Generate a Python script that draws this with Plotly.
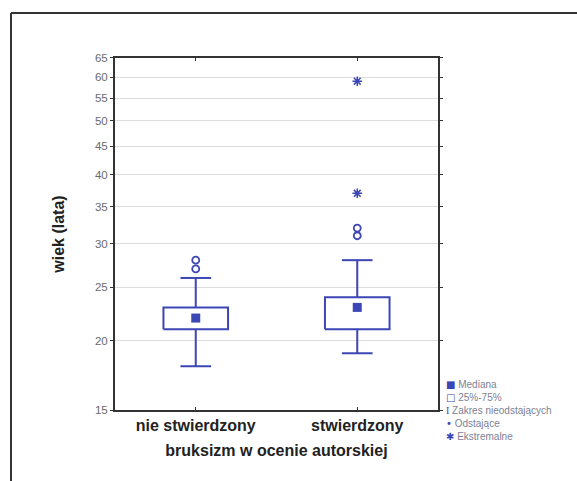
import plotly.graph_objects as go

categories = ["nie stwierdzony", "stwierdzony"]
q1 = [21, 21]
median = [22, 23]
q3 = [23, 24]
lower_whisker = [18, 19]
upper_whisker = [26, 28]
outliers = [[27, 28], [31, 32]]
extremes = [[], [37, 59]]
y_ticks = [15, 20, 25, 30, 35, 40, 45, 50, 55, 60, 65]
legend_labels = ["Mediana", "25%-75%", "Zakres nieodstających", "Odstające", "Ekstremalne"]
legend_symbols = ["■", "□", "I", "•", "✱"]

BLUE = "#3c46b4"
W, H = 577, 481
L, R, T, B = 115, 438, 58, 410
box_half = 0.20
cap_half = 0.095

fig = go.Figure()

for i in range(len(categories)):
    # box 25%-75%
    fig.add_trace(go.Scatter(
        x=[i - box_half, i + box_half, i + box_half, i - box_half, i - box_half],
        y=[q1[i], q1[i], q3[i], q3[i], q1[i]],
        mode="lines", line=dict(color=BLUE, width=2), showlegend=False, hoverinfo="skip"))
    # whiskers
    fig.add_trace(go.Scatter(
        x=[i, i, None, i - cap_half, i + cap_half, None, i, i, None, i - cap_half, i + cap_half],
        y=[q3[i], upper_whisker[i], None, upper_whisker[i], upper_whisker[i], None,
           q1[i], lower_whisker[i], None, lower_whisker[i], lower_whisker[i]],
        mode="lines", line=dict(color=BLUE, width=2), showlegend=False, hoverinfo="skip"))

# medians
fig.add_trace(go.Scatter(
    x=list(range(len(categories))), y=median, mode="markers",
    marker=dict(symbol="square", size=9, color=BLUE), showlegend=False))
# outliers
ox, oy = [], []
for i, vals in enumerate(outliers):
    for v in vals:
        ox.append(i); oy.append(v)
fig.add_trace(go.Scatter(
    x=ox, y=oy, mode="markers",
    marker=dict(symbol="circle-open", size=7, color=BLUE, line=dict(width=1.8)),
    showlegend=False))
# extremes
ex, ey = [], []
for i, vals in enumerate(extremes):
    for v in vals:
        ex.append(i); ey.append(v)
fig.add_trace(go.Scatter(
    x=ex, y=ey, mode="markers",
    marker=dict(symbol="asterisk-open", size=8, color=BLUE, line=dict(width=1.5, color=BLUE)),
    showlegend=False))

def px_x(p):
    return (p - L) / (R - L)

def px_y(p):
    return (B - p) / (B - T)

lines = []
for lbl, sym in zip(legend_labels, legend_symbols):
    fam = "Liberation Serif" if sym == "I" else "DejaVu Sans"
    lines.append(f'<span style="color:{BLUE};font-family:{fam}">{sym}</span> {lbl}')
legend_text = "<br>".join(lines)

fig.update_layout(
    width=W, height=H,
    margin=dict(l=L, r=W - R, t=T, b=H - B, autoexpand=False),
    paper_bgcolor="white", plot_bgcolor="white",
    font=dict(family="Liberation Sans, Arial, sans-serif", color="#222"),
    xaxis=dict(
        range=[-0.5, 1.5], tickvals=list(range(len(categories))), ticktext=categories,
        tickfont=dict(size=16, color="#222", family="Liberation Sans, Arial", weight="bold"),
        showgrid=False, zeroline=False, showline=True, linecolor="#333", linewidth=2,
        mirror="ticks", ticks="inside", ticklen=3, tickcolor="#333",
        title=dict(text="<b>bruksizm w ocenie autorskiej</b>", font=dict(size=16, color="#222"), standoff=12),
        fixedrange=True),
    yaxis=dict(
        type="log", range=[1.1761, 1.8129], tickvals=y_ticks, ticktext=[str(v) for v in y_ticks],
        tickfont=dict(size=11.5, color="#6a6a6a", family="Liberation Sans Narrow, Liberation Sans, Arial"),
        showgrid=True, gridcolor="#dcdcdc", gridwidth=1, zeroline=False,
        showline=True, linecolor="#333", linewidth=2, mirror="ticks",
        ticks="outside", ticklen=3, tickcolor="#333",
        title=dict(text="<b>wiek (lata)</b>", font=dict(size=16, color="#222"), standoff=26),
        fixedrange=True),
    annotations=[dict(
        text=legend_text, xref="paper", yref="paper",
        x=px_x(444), y=px_y(377), xanchor="left", yanchor="top", align="left",
        showarrow=False, font=dict(size=10, color="#7d7f95", family="Liberation Sans, Arial"))],
    shapes=[
        dict(type="line", xref="paper", yref="paper", x0=px_x(11), x1=px_x(W + 5),
             y0=px_y(13), y1=px_y(13), line=dict(color="#333", width=2)),
        dict(type="line", xref="paper", yref="paper", x0=px_x(11), x1=px_x(11),
             y0=px_y(13), y1=px_y(H + 5), line=dict(color="#333", width=2)),
    ],
)

fig.write_html("out.html", config={"displayModeBar": False},
               post_script="document.body.style.margin='0';")
